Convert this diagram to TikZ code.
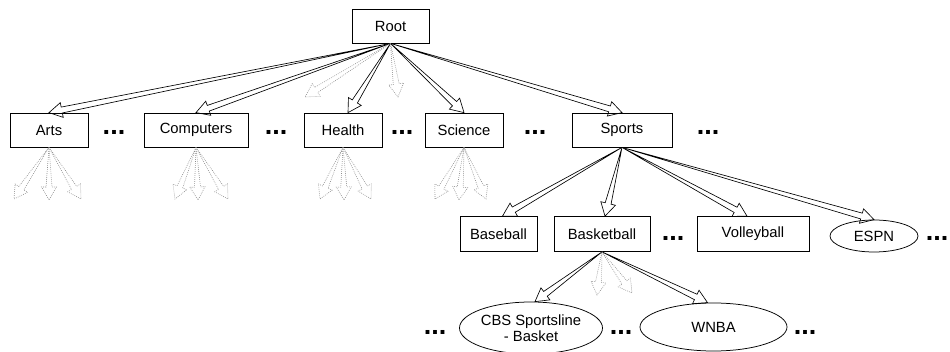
\documentclass[tikz,border=0pt]{standalone}
\usepackage{fontspec}
\setmainfont{Liberation Sans}
\usetikzlibrary{calc,shapes.geometric}
\tikzset{
  lbl/.style={font=\fontsize{14.8}{16.5}\selectfont},
  box/.style={lbl, draw=black, line width=0.75pt, rectangle, inner sep=0pt, minimum height=34pt},
  oval/.style={lbl, draw=black, line width=0.75pt, ellipse, inner sep=0pt, align=center},
  dots/.style={inner sep=0pt, font=\fontsize{27}{27}\selectfont\bfseries},
  harrow/.style={to path={
    let \p1=(\tikztostart), \p2=(\tikztotarget),
        \n1={atan2(\y2-\y1,\x2-\x1)},
        \n2={veclen(\x2-\x1,\y2-\y1)-13pt}
    in (\p1) -- ($(\p1)+({\n1}:\n2)+({\n1+90}:3pt)$)
       -- ($(\p1)+({\n1}:\n2)+({\n1+90}:7.5pt)$)
       -- (\p2)
       -- ($(\p1)+({\n1}:\n2)+({\n1-90}:7.5pt)$)
       -- ($(\p1)+({\n1}:\n2)+({\n1-90}:3pt)$)
       -- cycle
  }},
  solidarrow/.style={harrow, draw=black, line width=0.65pt, line join=miter},
  ghostarrow/.style={harrow, draw=black!45, line width=0.6pt, dash pattern=on 0.8pt off 1.2pt},
}
\begin{document}
\begin{tikzpicture}[x=1pt,y=1pt]
\useasboundingbox (0,0) rectangle (950,-352);
\clip (0,0) rectangle (950,-352);

% nodes
\node[box, minimum width=77pt] (root) at (390.5,-26) {Root};
\node[box, minimum width=78pt] (arts) at (49,-130) {Arts};
\node[box, minimum width=104pt] (comp) at (196,-130) {Computers};
\node[box, minimum width=78pt] (health) at (343,-130) {Health};
\node[box, minimum width=78pt] (sci) at (464,-130) {Science};
\node[box, minimum width=100pt] (sports) at (622,-130) {Sports};

\node[box, minimum width=77pt, minimum height=35pt] (baseball) at (498.5,-234) {Baseball};
\node[box, minimum width=96pt, minimum height=35pt] (basket) at (602,-234) {Basketball};
\node[box, minimum width=112pt, minimum height=35pt] (volley) at (753,-234) {Volleyball};
\node[oval, minimum width=88pt, minimum height=32pt] (espn) at (874,-236) {ESPN};

\node[oval, minimum width=143pt, minimum height=52pt] (cbs) at (531,-328) {CBS Sportsline\\- Basket};
\node[oval, minimum width=147pt, minimum height=48pt] (wnba) at (713.5,-327) {WNBA};

% ellipsis marks
\node[dots] (d1) at (114,-132) {...};
\node[dots] (d2) at (276,-132) {...};
\node[dots] (d3) at (402,-132) {...};
\node[dots] (d4) at (535,-132) {...};
\node[dots] (d5) at (708,-132) {...};
\node[dots] (d6) at (673,-238) {...};
\node[dots] (d7) at (937,-238) {...};
\node[dots] (d8) at (435,-332) {...};
\node[dots] (d9) at (621,-332) {...};
\node[dots] (d10) at (805,-332) {...};

% free ends of the faint arrows
\coordinate (rg1) at (305,-97);
\coordinate (rg2) at (398,-97);
\coordinate (a1) at (14,-199);
\coordinate (a2) at (49,-200);
\coordinate (a3) at (81,-199);
\coordinate (c1) at (175,-199);
\coordinate (c2) at (198,-200);
\coordinate (c3) at (228,-199);
\coordinate (h1) at (320,-199);
\coordinate (h2) at (344,-200);
\coordinate (h3) at (371,-199);
\coordinate (s1) at (435,-199);
\coordinate (s2) at (459,-200);
\coordinate (s3) at (486,-199);
\coordinate (b1) at (597,-295);
\coordinate (b2) at (632,-293);

% solid arrows
\draw[solidarrow] (root.south) to (arts.north);
\draw[solidarrow] (root.south) to (comp.north);
\draw[solidarrow] (root.south) to ([xshift=5pt]health.north);
\draw[solidarrow] (root.south) to (sci.north);
\draw[solidarrow] (root.south) to (sports.north);
\draw[solidarrow] (sports.south) to ([xshift=4pt]baseball.north);
\draw[solidarrow] (sports.south) to ([xshift=3pt]basket.north);
\draw[solidarrow] (sports.south) to ([xshift=-6pt]volley.north);
\draw[solidarrow] (sports.south) to (espn.north);
\draw[solidarrow] (basket.south) to ([xshift=4pt]cbs.north);
\draw[solidarrow] (basket.south) to ([xshift=-6pt]wnba.north);

% faint arrows
\draw[ghostarrow] (root.south) to (rg1);
\draw[ghostarrow] (root.south) to (rg2);
\foreach \n/\t in {arts/a, comp/c, health/h, sci/s}{
  \draw[ghostarrow] (\n.south) to (\t1);
  \draw[ghostarrow] (\n.south) to (\t2);
  \draw[ghostarrow] (\n.south) to (\t3);
}
\draw[ghostarrow] (basket.south) to (b1);
\draw[ghostarrow] (basket.south) to (b2);
\end{tikzpicture}
\end{document}
